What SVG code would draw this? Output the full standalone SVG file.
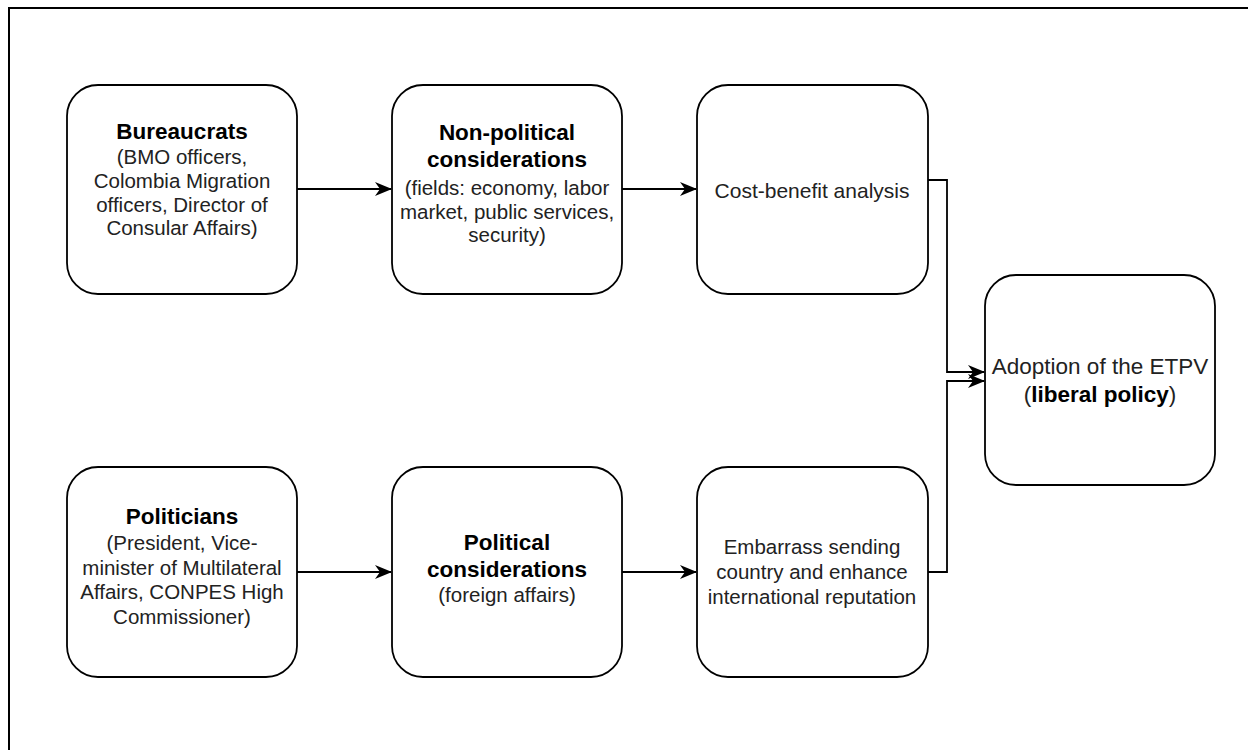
<svg xmlns="http://www.w3.org/2000/svg" width="1248" height="750" viewBox="0 0 1248 750">
<defs>
<style>
.box{fill:#fff;stroke:#000;stroke-width:1.8}
.t{font-family:"Liberation Sans",Arial,sans-serif;font-size:20.5px;fill:#222;text-anchor:middle}
.b{font-weight:bold;fill:#000;font-size:22.5px}
.c{fill:none;stroke:#000;stroke-width:1.8}
</style>
<marker id="arr" viewBox="0 0 17 14" refX="16" refY="7" markerWidth="17" markerHeight="14" markerUnits="userSpaceOnUse" orient="auto">
<path d="M0,0 L17,7 L0,14 L5,7 Z" fill="#000"/>
</marker>
</defs>
<rect width="1248" height="750" fill="#fff"/>
<rect x="9" y="8" width="1280" height="780" fill="none" stroke="#000" stroke-width="2"/>
<g id="connectors">
<path class="c" d="M297,189 L391,189" marker-end="url(#arr)"/>
<path class="c" d="M622,189 L696,189" marker-end="url(#arr)"/>
<path class="c" d="M297,572 L391,572" marker-end="url(#arr)"/>
<path class="c" d="M622,572 L696,572" marker-end="url(#arr)"/>
<path class="c" d="M928,180 L947,180 L947,372 L984,372" marker-end="url(#arr)"/>
<path class="c" d="M928,572 L947,572 L947,381 L984,381" marker-end="url(#arr)"/>
</g>
<g id="bureaucrats">
<rect class="box" x="67" y="85" width="230" height="209" rx="31"/>
<text class="t b" x="182" y="139">Bureaucrats</text>
<text class="t" x="182" y="164">(BMO officers,</text>
<text class="t" x="182" y="188">Colombia Migration</text>
<text class="t" x="182" y="212">officers, Director of</text>
<text class="t" x="182" y="235">Consular Affairs)</text>
</g>
<g id="nonpolitical">
<rect class="box" x="392" y="85" width="230" height="209" rx="31"/>
<text class="t b" x="507" y="140">Non-political</text>
<text class="t b" x="507" y="167">considerations</text>
<text class="t" x="507" y="195">(fields: economy, labor</text>
<text class="t" x="507" y="219">market, public services,</text>
<text class="t" x="507" y="242">security)</text>
</g>
<g id="costbenefit">
<rect class="box" x="697" y="85" width="231" height="209" rx="31"/>
<text class="t" x="812" y="198" style="font-size:21px">Cost-benefit analysis</text>
</g>
<g id="adoption">
<rect class="box" x="985" y="275" width="230" height="210" rx="31"/>
<text class="t" x="1100" y="374" style="font-size:22.5px">Adoption of the ETPV</text>
<text class="t" x="1100" y="402" style="font-size:22.5px">(<tspan class="b">liberal policy</tspan>)</text>
</g>
<g id="politicians">
<rect class="box" x="67" y="467" width="230" height="210" rx="31"/>
<text class="t b" x="182" y="524">Politicians</text>
<text class="t" x="182" y="550">(President, Vice-</text>
<text class="t" x="182" y="575">minister of Multilateral</text>
<text class="t" x="182" y="599">Affairs, CONPES High</text>
<text class="t" x="182" y="624">Commissioner)</text>
</g>
<g id="political">
<rect class="box" x="392" y="467" width="230" height="210" rx="31"/>
<text class="t b" x="507" y="550">Political</text>
<text class="t b" x="507" y="577">considerations</text>
<text class="t" x="507" y="602">(foreign affairs)</text>
</g>
<g id="embarrass">
<rect class="box" x="697" y="467" width="231" height="210" rx="31"/>
<text class="t" x="812" y="554">Embarrass sending</text>
<text class="t" x="812" y="579">country and enhance</text>
<text class="t" x="812" y="604">international reputation</text>
</g>
</svg>
